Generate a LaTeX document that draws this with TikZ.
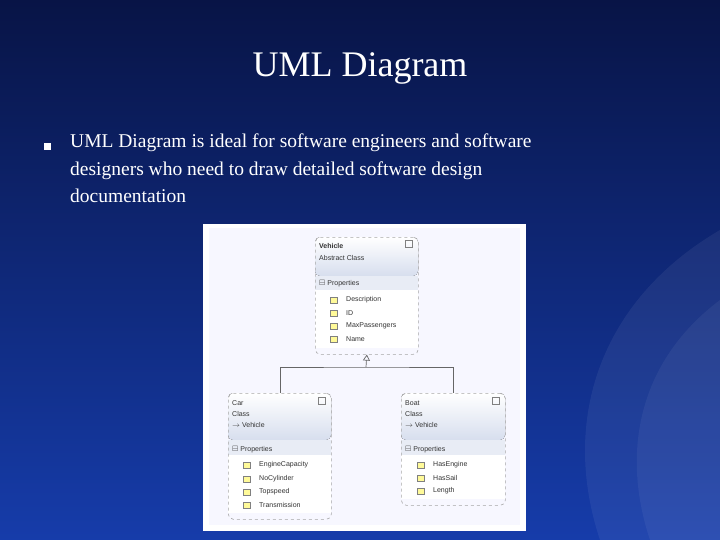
\documentclass[tikz,border=0pt]{standalone}
\usepackage{amssymb}
\usepackage{fontspec}
\usetikzlibrary{arrows.meta}
\setmainfont{Liberation Serif}
\newfontfamily\uisf{Liberation Sans}
\definecolor{bgtop}{RGB}{8,20,70}
\definecolor{bgbot}{RGB}{22,60,170}
\definecolor{hdr}{RGB}{215,222,238}
\definecolor{band}{RGB}{232,236,245}
\begin{document}
\begin{tikzpicture}[x=1pt,y=-1pt,
 cls/.style={draw=gray!70,dashed,rounded corners=5pt,line width=0.6pt},
 lbl/.style={font=\uisf\fontsize{7}{8}\selectfont,anchor=west,inner sep=0pt,text=black!80},
 conn/.style={draw=gray!80!black,line width=0.7pt},
 icon/.style={draw=gray,fill=yellow!40,minimum width=7pt,minimum height=6pt,inner sep=0pt}]
\useasboundingbox (0,0) rectangle (720,540);
\shade[top color=bgtop,bottom color=bgbot] (0,0) rectangle (720,540);
\fill[white,opacity=0.06] (720,230) .. controls (600,300) and (560,420) .. (600,540) -- (720,540) -- cycle;
\fill[white,opacity=0.05] (720,300) .. controls (640,360) and (620,450) .. (650,540) -- (720,540) -- cycle;
\node[text=white,font=\fontsize{36}{40}\selectfont] (title) at (360,68) {UML Diagram};
\node[fill=white,minimum size=7pt,inner sep=0pt] (bul) at (47,147) {};
\node[text=white,font=\fontsize{19.5}{27.5}\selectfont,align=left,anchor=north west,inner sep=0pt] (txt) at (70,134)
 {UML Diagram is ideal for software engineers and software\\designers who need to draw detailed software design\\documentation};
\fill[white] (203,224) rectangle (526,531);
\fill[blue!3] (209,228) rectangle (520,525);
% Vehicle
\fill[top color=white,bottom color=hdr,rounded corners=5pt] (315,237) rectangle (418,276);
\fill[band] (315,276) rectangle (418,290);
\fill[white] (315,290) rectangle (418,348);
\node[cls,minimum width=103pt,minimum height=117pt,anchor=north west] (veh) at (315,237) {};
\node[lbl,font=\uisf\bfseries\fontsize{7}{8}\selectfont] (vn) at (319,246) {Vehicle};
\node[lbl] (vs) at (319,258) {Abstract Class};
\node[lbl] (vp) at (319,284) {$\boxminus$ Properties};
\foreach \t/\yy in {Description/300,ID/313,MaxPassengers/326,Name/339}{
 \node[icon] (vi\yy) at (334,\yy) {};
 \node[lbl] (vt\yy) at (346,\yy) {\t};}
\node[draw=gray,minimum size=7pt,inner sep=0pt] (vx) at (409,244) {};
% Car
\fill[top color=white,bottom color=hdr,rounded corners=5pt] (228,393) rectangle (331,440);
\fill[band] (228,440) rectangle (331,455);
\fill[white] (228,455) rectangle (331,513);
\node[cls,minimum width=103pt,minimum height=126pt,anchor=north west] (car) at (228,393) {};
\node[lbl] (cn) at (232,403) {Car};
\node[lbl] (cs) at (232,414) {Class};
\node[lbl] (ci) at (232,425) {$\to$ Vehicle};
\node[lbl] (cp) at (232,450) {$\boxminus$ Properties};
\foreach \t/\yy in {EngineCapacity/465,NoCylinder/479,Topspeed/492,Transmission/505}{
 \node[icon] (ci\yy) at (247,\yy) {};
 \node[lbl] (ct\yy) at (259,\yy) {\t};}
\node[draw=gray,minimum size=7pt,inner sep=0pt] (cx) at (322,401) {};
% Boat
\fill[top color=white,bottom color=hdr,rounded corners=5pt] (401,393) rectangle (505,440);
\fill[band] (401,440) rectangle (505,455);
\fill[white] (401,455) rectangle (505,499);
\node[cls,minimum width=104pt,minimum height=112pt,anchor=north west] (boat) at (401,393) {};
\node[lbl] (bn) at (405,403) {Boat};
\node[lbl] (bs) at (405,414) {Class};
\node[lbl] (bi) at (405,425) {$\to$ Vehicle};
\node[lbl] (bp) at (405,450) {$\boxminus$ Properties};
\foreach \t/\yy in {HasEngine/465,HasSail/478,Length/491}{
 \node[icon] (bi\yy) at (421,\yy) {};
 \node[lbl] (bt\yy) at (433,\yy) {\t};}
\node[draw=gray,minimum size=7pt,inner sep=0pt] (bx) at (496,401) {};
% inheritance
\coordinate (j) at (366,367);
\coordinate (ca) at (280,393);
\coordinate (ba) at (453,393);
\draw[conn] (ca) |- (j) -| (ba);
\draw[conn,-{Triangle[open,length=6pt,width=7pt]}] (j) -- (veh.south);
\end{tikzpicture}
\end{document}
